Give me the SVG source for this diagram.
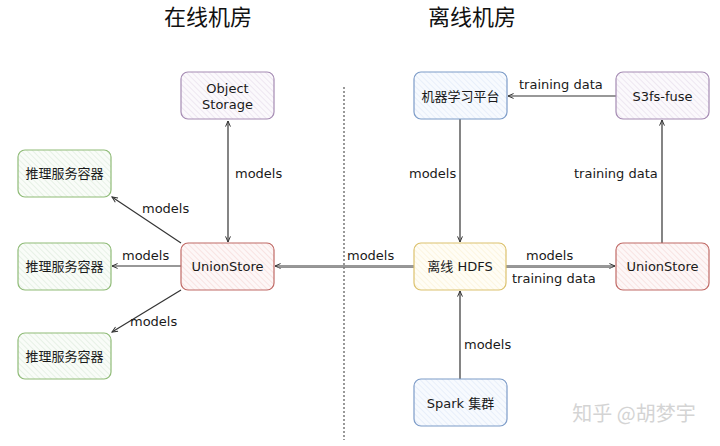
<svg xmlns="http://www.w3.org/2000/svg" width="720" height="446" viewBox="0 0 720 446">
<defs>
<style>
.t{font-family:"DejaVu Sans","Noto Sans CJK SC",sans-serif;font-size:13px;fill:#1a1a1a}
.n{font-family:"DejaVu Sans","Noto Sans CJK SC",sans-serif;font-size:13px;fill:#1a1a1a;text-anchor:middle}
.h{font-family:"Noto Sans CJK SC",sans-serif;font-size:22px;fill:#111;text-anchor:middle}
.c{fill:none;stroke:#333;stroke-width:1.2}
.box{stroke-width:1.2}
</style>
<pattern id="hp" width="4" height="4" patternUnits="userSpaceOnUse" patternTransform="rotate(-45)"><rect width="4" height="4" fill="#fbf9fc"/><line x1="0" y1="0" x2="0" y2="4" stroke="#e6dcea" stroke-width="1.2"/></pattern>
<pattern id="hg" width="4" height="4" patternUnits="userSpaceOnUse" patternTransform="rotate(-45)"><rect width="4" height="4" fill="#f9fcf8"/><line x1="0" y1="0" x2="0" y2="4" stroke="#dcebdb" stroke-width="1.2"/></pattern>
<pattern id="hr" width="4" height="4" patternUnits="userSpaceOnUse" patternTransform="rotate(-45)"><rect width="4" height="4" fill="#fdf7f7"/><line x1="0" y1="0" x2="0" y2="4" stroke="#f6d6d4" stroke-width="1.2"/></pattern>
<pattern id="hb" width="4" height="4" patternUnits="userSpaceOnUse" patternTransform="rotate(-45)"><rect width="4" height="4" fill="#f7fafe"/><line x1="0" y1="0" x2="0" y2="4" stroke="#dfe9f8" stroke-width="1.2"/></pattern>
<pattern id="hy" width="4" height="4" patternUnits="userSpaceOnUse" patternTransform="rotate(-45)"><rect width="4" height="4" fill="#fffdf5"/><line x1="0" y1="0" x2="0" y2="4" stroke="#fbf0d2" stroke-width="1.2"/></pattern>
<marker id="a" viewBox="0 0 10 10" refX="9" refY="5" markerWidth="7" markerHeight="7" orient="auto-start-reverse" markerUnits="userSpaceOnUse"><path d="M1,1.5 L9,5 L1,8.5" fill="none" stroke="#333" stroke-width="1.4"/></marker>
</defs>
<rect width="720" height="446" fill="#fff"/>
<text class="h" x="208" y="25">在线机房</text>
<text class="h" x="472" y="25">离线机房</text>
<line x1="344" y1="87" x2="344" y2="440" stroke="#555" stroke-width="1.2" stroke-dasharray="2,2"/>
<g id="connectors">
<line class="c" x1="228" y1="121" x2="228" y2="242" marker-start="url(#a)" marker-end="url(#a)"/>
<text class="t" x="235" y="178">models</text>
<line class="c" x1="181" y1="243" x2="112" y2="197" marker-end="url(#a)"/>
<text class="t" x="142" y="213">models</text>
<line class="c" x1="181" y1="266" x2="112" y2="266" marker-end="url(#a)"/>
<text class="t" x="122" y="260">models</text>
<line class="c" x1="181" y1="290" x2="112" y2="332" marker-end="url(#a)"/>
<text class="t" x="130" y="326">models</text>
<line class="c" x1="414" y1="266" x2="275" y2="266" marker-end="url(#a)"/>
<line x1="414" y1="267.5" x2="278" y2="267.5" stroke="#777" stroke-width="0.8"/>
<text class="t" x="347" y="260">models</text>
<line class="c" x1="616" y1="96" x2="508" y2="96" marker-end="url(#a)"/>
<text class="t" x="519" y="89">training data</text>
<line class="c" x1="460" y1="119" x2="460" y2="242" marker-end="url(#a)"/>
<text class="t" x="409" y="178">models</text>
<line class="c" x1="662" y1="243" x2="662" y2="120" marker-end="url(#a)"/>
<text class="t" x="574" y="178">training data</text>
<line class="c" x1="506" y1="266" x2="615" y2="266" marker-end="url(#a)"/>
<line x1="506" y1="267.5" x2="612" y2="267.5" stroke="#777" stroke-width="0.8"/>
<text class="t" x="526" y="260">models</text>
<text class="t" x="512" y="283">training data</text>
<line class="c" x1="460" y1="379" x2="460" y2="291" marker-end="url(#a)"/>
<text class="t" x="464" y="349">models</text>
</g>
<g id="object-storage"><rect class="box" x="181" y="72" width="93" height="47" rx="7" fill="url(#hp)" stroke="#a58bb3"/><text class="n" x="227.5" y="93">Object</text><text class="n" x="227.5" y="109">Storage</text></g>
<g id="infer1"><rect class="box" x="18" y="150" width="93" height="47" rx="7" fill="url(#hg)" stroke="#8fbb77"/><text class="n" x="64.5" y="178">推理服务容器</text></g>
<g id="infer2"><rect class="box" x="18" y="243" width="93" height="47" rx="7" fill="url(#hg)" stroke="#8fbb77"/><text class="n" x="64.5" y="271">推理服务容器</text></g>
<g id="infer3"><rect class="box" x="18" y="333" width="93" height="46" rx="7" fill="url(#hg)" stroke="#8fbb77"/><text class="n" x="64.5" y="361">推理服务容器</text></g>
<g id="unionstore-online"><rect class="box" x="181" y="243" width="93" height="47" rx="7" fill="url(#hr)" stroke="#c06a66"/><text class="n" x="227.5" y="271">UnionStore</text></g>
<g id="ml-platform"><rect class="box" x="414" y="72" width="93" height="47" rx="7" fill="url(#hb)" stroke="#7d9cc8"/><text class="n" x="460.5" y="101">机器学习平台</text></g>
<g id="s3fs"><rect class="box" x="616" y="72" width="93" height="47" rx="7" fill="url(#hp)" stroke="#a58bb3"/><text class="n" x="662.5" y="101">S3fs-fuse</text></g>
<g id="hdfs"><rect class="box" x="414" y="243" width="92" height="47" rx="7" fill="url(#hy)" stroke="#dcc26e"/><text class="n" x="460" y="271">离线 HDFS</text></g>
<g id="unionstore-offline"><rect class="box" x="616" y="243" width="93" height="47" rx="7" fill="url(#hr)" stroke="#c06a66"/><text class="n" x="662.5" y="271">UnionStore</text></g>
<g id="spark"><rect class="box" x="414" y="379" width="93" height="47" rx="7" fill="url(#hb)" stroke="#7d9cc8"/><text class="n" x="460.5" y="408">Spark 集群</text></g>
<text x="634" y="421" font-family="Noto Sans CJK SC,sans-serif" font-size="20" fill="#d4d4d4" text-anchor="middle">知乎 @胡梦宇</text>
</svg>
